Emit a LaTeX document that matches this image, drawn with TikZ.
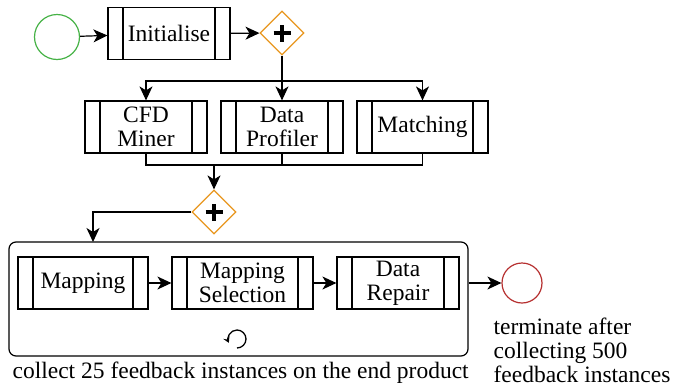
\documentclass[tikz,border=0pt]{standalone}
\usepackage{fontspec}
\setmainfont{Liberation Serif}
\usepackage{xcolor}
\usetikzlibrary{shapes.geometric,arrows.meta,calc}

\definecolor{startgreen}{RGB}{70,178,70}
\definecolor{endred}{RGB}{182,48,48}
\definecolor{gateorange}{RGB}{232,150,30}

\begin{document}
\begin{tikzpicture}[x=1pt,y=-1pt,line width=1.2pt,
    font=\fontsize{23.5}{24}\selectfont,
    arr/.style={-{Stealth[length=14pt,width=13pt,inset=4pt]}},
    task/.style={draw,rectangle,minimum height=52pt,inner sep=0pt,align=center,
        path picture={
            \draw ([xshift=15pt]path picture bounding box.north west) -- ([xshift=15pt]path picture bounding box.south west);
            \draw ([xshift=-15pt]path picture bounding box.north east) -- ([xshift=-15pt]path picture bounding box.south east);
        }},
    gateway/.style={draw=gateorange,diamond,minimum width=44pt,minimum height=44pt,inner sep=0pt,
        path picture={
            \draw[black,line width=3.6pt] ($(path picture bounding box.center)+(-8.5pt,0)$) -- ++(17pt,0);
            \draw[black,line width=3.6pt] ($(path picture bounding box.center)+(0,-8.5pt)$) -- ++(0,17pt);
        }},
    event/.style={draw,circle,inner sep=0pt}]
    \useasboundingbox (0,0) rectangle (673,389);

    \node[event,draw=startgreen,minimum size=45pt] (start) at (57,37) {};
    \node[task,minimum width=122pt] (init) at (169,33.5) {Initialise};
    \node[gateway] (fork) at (282,33) {};

    \node[task,minimum width=122pt] (cfd) at (146,127) {CFD\\Miner};
    \node[task,minimum width=122pt] (prof) at (282,127) {Data\\Profiler};
    \node[task,minimum width=131pt] (match) at (422.5,127) {Matching};
    \node[gateway] (join) at (214,212) {};

    % looped sub-process
    \node[draw,rectangle,rounded corners=7pt,minimum width=459pt,minimum height=114pt] (loop) at (238.5,299) {};
    \node[task,minimum width=130pt] (map) at (83,283) {Mapping};
    \node[task,minimum width=141pt] (mapsel) at (242.5,283) {Mapping\\Selection};
    \node[task,minimum width=122pt] (repair) at (398,283) {Data\\Repair};
    \draw[line width=1.3pt,-{Stealth[length=6pt,width=7pt,inset=2.5pt]}] (237,339) ++(-90:9pt) arc (-90:205:9pt);
    \node[event,draw=endred,minimum size=40pt] (end) at (522,283) {};

    \coordinate (split) at (282,81);
    \coordinate (merge) at (214,165);
    \coordinate (loopin) at (93,242);

    \draw[arr] (start) -- (init);
    \draw[arr] (init) -- (fork);
    \draw[arr] (fork) -- (prof);
    \draw[arr] (split) -| (cfd);
    \draw[arr] (split) -| (match);
    \draw (cfd) |- (merge);
    \draw (prof) |- (merge);
    \draw (match) |- (merge);
    \draw[arr] (merge) -- (join);
    \draw[arr] (join) -| (loopin);
    \draw[arr] (map) -- (mapsel);
    \draw[arr] (mapsel) -- (repair);
    \draw[arr] (loop.east |- end) -- (end);

    \node[anchor=base west,inner sep=0pt] (looptext) at (12,378) {collect 25 feedback instances on the end product};
    \node[anchor=base west,inner sep=0pt,align=left] (endtext) at (493,382) {terminate after\\collecting 500\\feedback instances};
\end{tikzpicture}
\end{document}
